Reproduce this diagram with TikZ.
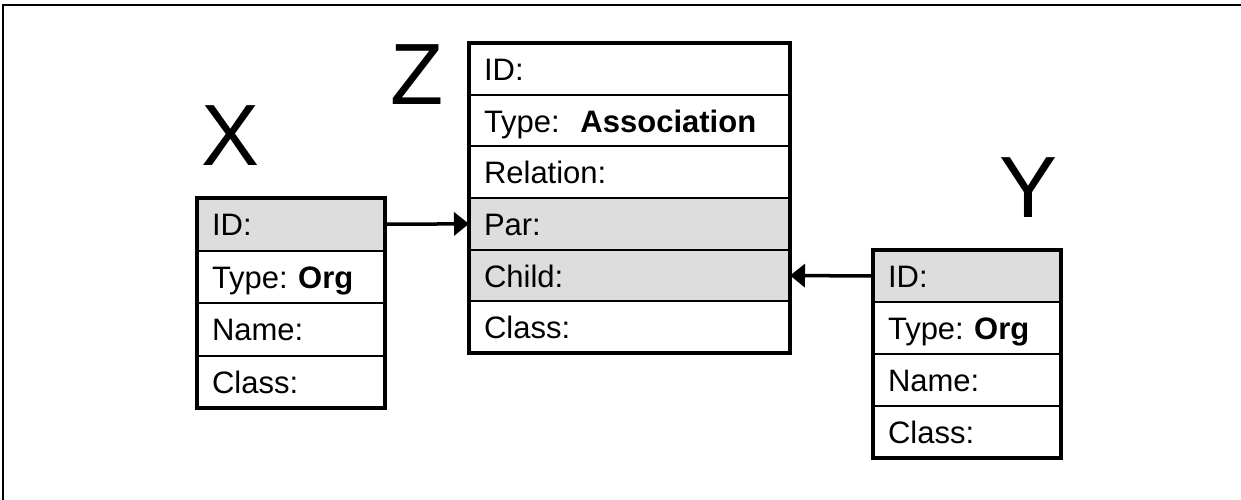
\documentclass[tikz,border=0pt]{standalone}
\usepackage{fontspec}
\setmainfont{Liberation Sans}
\usetikzlibrary{arrows.meta}
\definecolor{keygrey}{HTML}{DDDDDD}
\frenchspacing
\tikzset{
  row/.style={draw, line width=2pt, outer sep=0pt, anchor=north west,
    inner xsep=15pt, inner ysep=0pt, text width=#1, align=left,
    minimum height=52pt, text height=23pt, text depth=0pt,
    font=\fontsize{31}{36}\selectfont},
  keyrow/.style={row=#1, fill=keygrey},
  frame/.style={line width=4pt},
  link/.style={line width=3.5pt, -{Triangle[length=15pt,width=23pt]}},
  biglabel/.style={anchor=base, font=\fontsize{87}{87}\selectfont}
}
\begin{document}
\begin{tikzpicture}[x=1pt,y=-1pt]
\useasboundingbox (0,0) rectangle (1241,500);
\draw[line width=2.5pt] (3,500) -- (3,5) -- (1241,5);

% Box X
\node[keyrow=158pt, minimum height=52.5pt] (x1) at (197,198) {ID:};
\node[row=158pt, minimum height=52.5pt] (x2) at (x1.south west) {Type: \textbf{Org}};
\node[row=158pt, minimum height=52.5pt] (x3) at (x2.south west) {Name:};
\node[row=158pt, minimum height=52.5pt] (x4) at (x3.south west) {Class:};
\draw[frame] (x1.north west) rectangle (x4.south east);

% Box Z
\node[row=291pt, minimum height=51.67pt] (z1) at (469,43) {ID:};
\node[row=291pt, minimum height=51.67pt] (z2) at (z1.south west) {Type:\ \ \textbf{Association}};
\node[row=291pt, minimum height=51.67pt] (z3) at (z2.south west) {Relation:};
\node[keyrow=291pt, minimum height=51.67pt] (z4) at (z3.south west) {Par:};
\node[keyrow=291pt, minimum height=51.67pt] (z5) at (z4.south west) {Child:};
\node[row=291pt, minimum height=51.67pt] (z6) at (z5.south west) {Class:};
\draw[frame] (z1.north west) rectangle (z6.south east);

% Box Y
\node[keyrow=158pt] (y1) at (873,250) {ID:};
\node[row=158pt] (y2) at (y1.south west) {Type: \textbf{Org}};
\node[row=158pt] (y3) at (y2.south west) {Name:};
\node[row=158pt] (y4) at (y3.south west) {Class:};
\draw[frame] (y1.north west) rectangle (y4.south east);

% Labels
\node[biglabel] (lx) at (231,165) {X};
\node[biglabel] (lz) at (417,105) {Z};
\node[biglabel] (ly) at (1028,217) {Y};

% Connectors
\draw[link] (x1.east) -- (z4.west);
\draw[link] (y1.west) -- (z5.east);
\end{tikzpicture}
\end{document}
